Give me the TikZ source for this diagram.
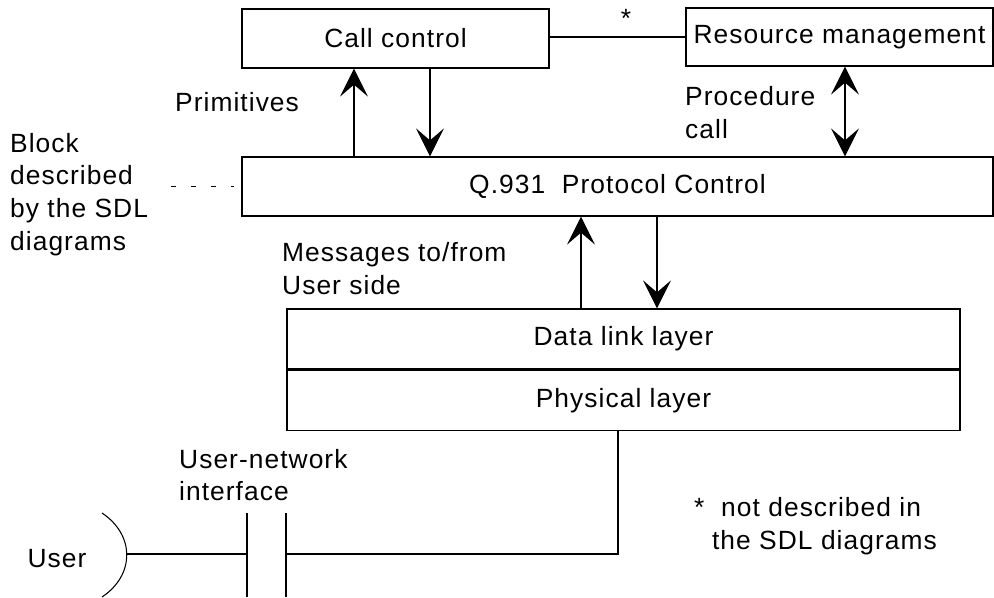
\documentclass[tikz,border=0pt]{standalone}
\usepackage{fontspec}
\setmainfont{Liberation Sans}[LetterSpace=4]
\usetikzlibrary{positioning,calc,arrows.meta}

\begin{document}
\begin{tikzpicture}[
      box/.style={draw, line width=.7pt, inner sep=1pt},
      link/.style={line width=.6pt},
      arr/.style={link, -{Stealth[length=5.6mm, width=5.6mm, inset=2.4mm]}},
      dblarr/.style={link, {Stealth[length=5.6mm, width=5.6mm, inset=2.4mm]}-{Stealth[length=5.6mm, width=5.6mm, inset=2.4mm]}},
      sdldash/.style={link, dash pattern=on .1cm off .3cm},
      every node/.style={font=\fontsize{15}{18.7}\selectfont}]
      \useasboundingbox (0,0) rectangle (19.88,-11.94);

      \node[box, minimum width=6.14cm, minimum height=1.18cm] (call) at (7.91,-.77) {Call control};
      \node[box, minimum width=6.14cm, minimum height=1.16cm] (res) at (16.79,-.74) {Resource management};
      \draw[link] (res.west -| call.east) -- (res.west);
      \node (star) at (12.52,-.36) {*};

      \node[box, minimum width=15.02cm, minimum height=1.18cm] (q931) at (12.35,-3.73) {Q.931\ \ Protocol Control};

      \coordinate (primx) at ([xshift=-8.3mm]call.south);
      \draw[arr] (primx |- q931.north) -- (primx);
      \coordinate (downx) at ([xshift=6.9mm]call.south);
      \draw[arr] (downx) -- (downx |- q931.north);
      \node[anchor=west] (prim) at (3.38,-2.04) {Primitives};

      \coordinate (procx) at ([xshift=1.1mm]res.south);
      \draw[dblarr] (procx) -- (procx |- q931.north);
      \node[anchor=west, align=left] (proc) at (13.58,-2.25) {Procedure\\call};

      \node[anchor=west, align=left] (block) at (.08,-3.89) {Block\\described\\by the SDL\\diagrams};
      \draw[sdldash] ([xshift=-14mm]q931.west) -- ([xshift=-1.4mm]q931.west);

      \node[box, minimum width=13.46cm, minimum height=1.2cm] (data) at (12.47,-6.78) {Data link layer};
      \node[box, minimum width=13.46cm, minimum height=1.2cm, below=0pt of data] (phys) {Physical layer};

      \coordinate (msgup) at ([xshift=-7.3mm]q931.south);
      \draw[arr] (msgup |- data.north) -- (msgup);
      \coordinate (msgdown) at ([xshift=7.9mm]q931.south);
      \draw[arr] (msgdown) -- (msgdown |- data.north);
      \node[anchor=west, align=left] (msg) at (5.52,-5.37) {Messages to/from\\User side};

      \coordinate (physdown) at ([xshift=-1.1mm]phys.south);
      \coordinate (ifleft) at (4.94,-11.08);
      \coordinate (ifright) at (5.72,-11.08);
      \coordinate (userend) at (2.54,-11.08);
      \draw[link] (physdown) |- (ifright);
      \draw[link] (userend) -- (ifleft);
      \draw[link] (4.94,-10.26) -- (4.94,-11.94);
      \draw[link] (5.72,-10.26) -- (5.72,-11.94);
      \draw[link] (2.04,-10.26) .. controls (2.7,-10.7) and (2.7,-11.5) .. (2.04,-11.94);
      \node[anchor=west, align=left] (uni) at (3.46,-9.5) {User-network\\interface};
      \node (user) at (1.14,-11.18) {User};

      \node[anchor=west, align=left] (note) at (13.76,-10.52) {*\ \ not described in\\\hspace*{.68em}the SDL diagrams};

    \end{tikzpicture}
\end{document}
